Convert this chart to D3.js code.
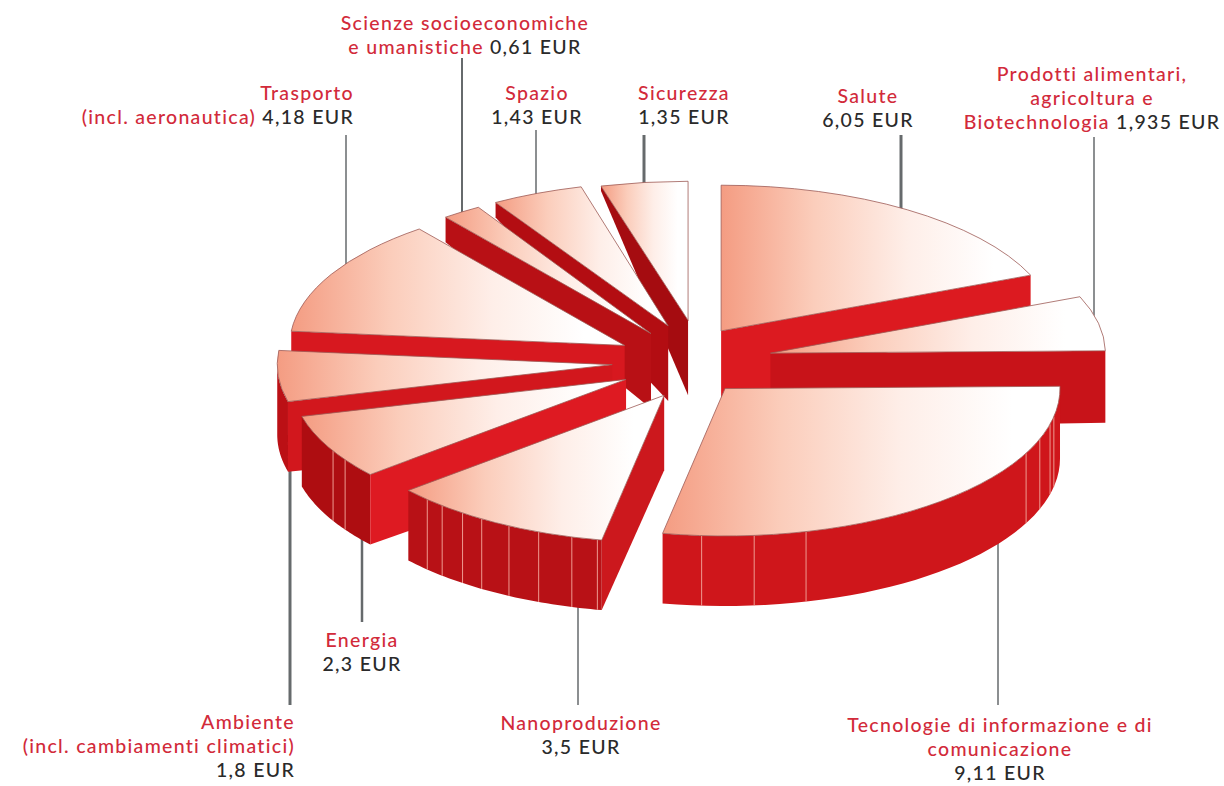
<!DOCTYPE html>
<html>
<head>
	<meta charset="utf-8">
	<title>Torta 3D</title>
	<script src="https://d3js.org/d3.v7.min.js"></script>
	<style>
		html, body { margin: 0; background: #fff; }
		text { font-family: Lato, sans-serif; font-size: 19.5px; font-weight: 500; letter-spacing: 1.3px; }
	</style>
</head>
<body>
	<div class="chart"></div>

	<script type="text/javascript">
		// dati, in senso orario dalle ore 12
		var categories = [
			'Salute', 'Prodotti alimentari', 'Tecnologie di informazione', 'Nanoproduzione', 'Energia',
			'Ambiente', 'Trasporto', 'Scienze socioeconomiche', 'Spazio', 'Sicurezza'
		]
		var values = [6.05, 1.935, 9.11, 3.5, 2.3, 1.8, 4.18, 0.61, 1.43, 1.35]

		// testo rosso delle etichette, riga per riga
		var labelLines = [
			['Salute'],
			['Prodotti alimentari,', 'agricoltura e', 'Biotechnologia'],
			['Tecnologie di informazione e di', 'comunicazione'],
			['Nanoproduzione'],
			['Energia'],
			['Ambiente', '(incl. cambiamenti climatici)'],
			['Trasporto', '(incl. aeronautica)'],
			['Scienze socioeconomiche', 'e umanistiche'],
			['Spazio'],
			['Sicurezza']
		]
		var valueInline = [false, true, false, false, false, false, true, true, false, false]

		// impaginazione delle etichette e delle linee guida
		var labelX = [868, 1092, 1000, 581, 362, 295, 354, 465, 537, 684]
		var labelY = [103, 81, 732, 730, 647, 729, 100, 30, 100, 100]
		var labelAnchor = ['middle', 'middle', 'middle', 'middle', 'middle', 'end', 'end', 'middle', 'middle', 'middle']
		var leaderX = [901, 1094, 998, 578, 362, 290, 346, 462, 536, 644]
		var leaderFrom = [135, 137, 500, 590, 530, 450, 135, 58, 130, 135]
		var leaderTo = [215, 330, 705, 705, 622, 705, 270, 215, 200, 190]
		var leaderWidth = [3, 1.5, 1.5, 1.5, 2.5, 3, 1.5, 2, 1.5, 3]

		// stile delle fette
		var explode = [74, 77, 73, 85, 81, 76, 78, 92, 94, 91]
		var nudgeX = [-10, 5, -12, 17, 8, -2, 3, 13, 15, 10]
		var nudgeY = [-2, 0, 4, 3, 3, 2, 2, 7, 4, 0]
		var squash = [0.435, 0.44, 0.44, 0.44, 0.44, 0.44, 0.44, 0.44, 0.43, 0.415]
		var rimDepth = [31, 72, 70, 70, 70, 70, 60, 25, 15, 5]
		var arcColors = ['#cc151a', '#cc151a', '#cf161b', '#b81116', '#ae0d11', '#bb1015', '#d7181f', '#b81015', '#b30d12', '#a50c10']
		var edgeColors = ['#dc1a20', '#c81319', '#cf161b', '#cc181d', '#de1a22', '#d2171d', '#d7181f', '#b81015', '#b30d12', '#a50c10']
		var seams = [
			[], [],
			[101, 104, 110, 116, 166, 175, 184],
			[191.5, 196, 202, 207.6, 213, 217, 221.5, 225],
			[237, 241],
			[], [], [], [], []
		]

		var width = 1224
		var height = 786
		var cx = 690
		var cy = 360
		var radius = 335
		var apexDepth = 75

		var svg = d3
			.select('.chart')
			.append('svg')
			.attr('width', width)
			.attr('height', height)
			.style('display', 'block')

		// sfumatura delle facce superiori
		var grad = svg
			.append('defs')
			.append('linearGradient')
			.attr('id', 'top-face')
			.attr('x1', 0)
			.attr('x2', 1)
			.attr('y1', 0)
			.attr('y2', 0)
		grad.append('stop').attr('offset', '0%').attr('stop-color', '#f49c82')
		grad.append('stop').attr('offset', '30%').attr('stop-color', '#fbcdbb')
		grad.append('stop').attr('offset', '60%').attr('stop-color', '#feeee8')
		grad.append('stop').attr('offset', '88%').attr('stop-color', '#ffffff')

		var slices = d3
			.pie()
			.sort(null)
			.value((d) => d)(values)

		var arc = d3
			.arc()
			.innerRadius(0)
			.outerRadius(radius)

		var line = d3.line()

		function offset(d) {
			var mid = (d.startAngle + d.endAngle) / 2
			var e = explode[d.index]
			return [Math.sin(mid) * e + nudgeX[d.index], -Math.cos(mid) * e * 0.44 + nudgeY[d.index]]
		}

		// punto sul bordo esterno della fetta
		function rim(d, a) {
			var o = offset(d)
			return [cx + o[0] + Math.sin(a) * radius, cy + o[1] - Math.cos(a) * radius * squash[d.index]]
		}

		function apex(d) {
			var o = offset(d)
			return [cx + o[0], cy + o[1]]
		}

		function down(p, h) {
			return [p[0], p[1] + h]
		}

		// parete curva: solo la parte rivolta verso chi guarda
		function arcWall(d) {
			var a0 = Math.max(d.startAngle, Math.PI / 2)
			var a1 = Math.min(d.endAngle, (Math.PI * 3) / 2)
			if (a1 <= a0) return null
			var h = rimDepth[d.index]
			var top = d3.range(0, 41).map((k) => rim(d, a0 + ((a1 - a0) * k) / 40))
			return line(top.concat(top.slice().reverse().map((p) => down(p, h)))) + 'Z'
		}

		// parete radiale visibile
		function edgeWall(d) {
			var a = null
			if (Math.sin(d.startAngle) < -1e-6) a = d.startAngle
			else if (Math.sin(d.endAngle) > 1e-6) a = d.endAngle
			if (a === null) return null
			var p = apex(d)
			var r = rim(d, a)
			return line([p, r, down(r, rimDepth[d.index]), down(p, apexDepth)]) + 'Z'
		}

		/**
		 * linee guida, sotto la torta
		 */
		svg
			.append('g')
			.selectAll('line')
			.data(values)
			.enter()
			.append('line')
			.attr('x1', (d, i) => leaderX[i])
			.attr('x2', (d, i) => leaderX[i])
			.attr('y1', (d, i) => leaderFrom[i])
			.attr('y2', (d, i) => leaderTo[i])
			.attr('stroke', '#666a6c')
			.attr('stroke-width', (d, i) => leaderWidth[i])

		/**
		 * fette, dal fondo verso chi guarda
		 */
		var ordered = slices
			.slice()
			.sort((a, b) => Math.cos((b.startAngle + b.endAngle) / 2) - Math.cos((a.startAngle + a.endAngle) / 2))

		var groups = svg
			.append('g')
			.selectAll('g')
			.data(ordered)
			.enter()
			.append('g')
			.attr('class', 'slice')
			.attr('data-name', (d) => categories[d.index])

		groups
			.append('path')
			.attr('d', arcWall)
			.attr('fill', (d) => arcColors[d.index])

		groups.each(function (d) {
			var g = d3.select(this)
			seams[d.index].forEach((deg) => {
				var p = rim(d, (deg * Math.PI) / 180)
				g.append('path')
					.attr('d', line([p, down(p, rimDepth[d.index])]))
					.attr('stroke', '#ee9a90')
					.attr('stroke-width', 1)
			})
		})

		groups
			.append('path')
			.attr('d', edgeWall)
			.attr('fill', (d) => edgeColors[d.index])

		groups
			.append('path')
			.attr('d', arc)
			.attr('transform', (d) => {
				var p = apex(d)
				return `translate(${p[0]}, ${p[1]}) scale(1, ${squash[d.index]})`
			})
			.attr('fill', 'url(#top-face)')
			.attr('stroke', '#9d5a55')
			.attr('stroke-width', 0.8)
			.attr('vector-effect', 'non-scaling-stroke')

		/**
		 * etichette
		 */
		var fmt = (v) => String(v).replace('.', ',') + ' EUR'

		var labels = svg
			.append('g')
			.selectAll('text')
			.data(values)
			.enter()
			.append('g')

		labels.each(function (v, i) {
			var lines = labelLines[i].map((t) => ({ red: t, black: null }))
			if (valueInline[i]) lines[lines.length - 1].black = fmt(v)
			else lines.push({ red: null, black: fmt(v) })
			lines.forEach((l, k) => {
				var t = d3
					.select(this)
					.append('text')
					.attr('x', labelX[i])
					.attr('y', labelY[i] + k * 24)
					.attr('text-anchor', labelAnchor[i])
				if (l.red) t.append('tspan').attr('fill', '#d22a3a').text(l.red)
				if (l.black) t.append('tspan').attr('fill', '#2a2a2a').text((l.red ? ' ' : '') + l.black)
			})
		})
	</script>
</body>
</html>
